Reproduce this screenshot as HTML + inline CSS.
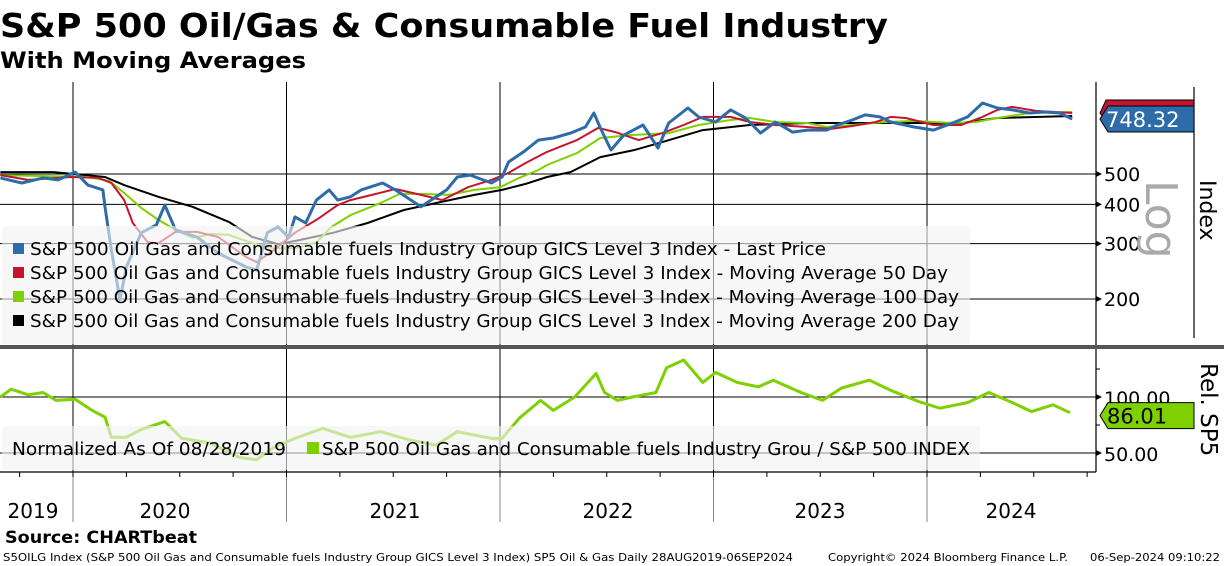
<!DOCTYPE html>
<html><head><meta charset="utf-8"><title>S&amp;P 500 Oil/Gas &amp; Consumable Fuel Industry</title>
<style>
html,body{margin:0;padding:0;background:#fff;width:1224px;height:566px;overflow:hidden}
svg{display:block;font-family:"DejaVu Sans","Liberation Sans",sans-serif}
</style></head>
<body>
<svg id="chart" width="1224" height="566" viewBox="0 0 1224 566" xmlns="http://www.w3.org/2000/svg">
<text x="0" y="37" font-size="33" font-weight="bold" textLength="888" lengthAdjust="spacingAndGlyphs">S&amp;P 500 Oil/Gas &amp; Consumable Fuel Industry</text>
<text x="0" y="68" font-size="22" font-weight="bold" textLength="306" lengthAdjust="spacingAndGlyphs">With Moving Averages</text>
<g id="grid"></g>
<g id="series"></g>
<g id="over"></g>
<text x="5" y="543" font-size="17" font-weight="bold" textLength="192" lengthAdjust="spacingAndGlyphs">Source: CHARTbeat</text>
<text x="3" y="561" font-size="11" textLength="790" lengthAdjust="spacingAndGlyphs">S5OILG Index (S&amp;P 500 Oil Gas and Consumable fuels Industry Group GICS Level 3 Index) SP5 Oil &amp; Gas  Daily 28AUG2019-06SEP2024</text>
<text x="828" y="561" font-size="11" textLength="240" lengthAdjust="spacingAndGlyphs">Copyright© 2024 Bloomberg Finance L.P.</text>
<text x="1090" y="561" font-size="11" textLength="130" lengthAdjust="spacingAndGlyphs">06-Sep-2024 09:10:22</text>
</svg>
<script>
// ---- data ----
const priceDates=[2019.66,2019.76,2019.86,2019.93,2020.01,2020.07,2020.14,2020.15,2020.18,2020.22,2020.25,2020.32,2020.39,2020.43,2020.48,2020.58,2020.68,2020.81,2020.86,2020.91,2020.96,2021.01,2021.04,2021.09,2021.14,2021.20,2021.24,2021.30,2021.35,2021.45,2021.51,2021.63,2021.75,2021.80,2021.86,2021.96,2022.01,2022.04,2022.11,2022.18,2022.25,2022.33,2022.40,2022.44,2022.47,2022.52,2022.58,2022.67,2022.74,2022.79,2022.88,2022.93,2023.01,2023.08,2023.15,2023.22,2023.29,2023.37,2023.44,2023.53,2023.58,2023.65,2023.71,2023.78,2023.83,2023.94,2024.03,2024.12,2024.19,2024.26,2024.33,2024.40,2024.48,2024.55,2024.62,2024.68];
const priceValues=[486,468,486,479,507,461,445,393,286,199,253,325,344,398,332,315,280,253,247,325,339,315,365,349,413,445,413,423,445,468,445,393,445,489,496,468,489,546,588,641,651,675,706,782,701,596,665,716,605,727,811,760,732,800,754,675,732,680,690,690,716,743,771,760,732,706,690,727,760,841,811,800,782,788,782,748.32];
const ma50Dates=[2019.66,2019.79,2019.99,2020.12,2020.18,2020.24,2020.28,2020.35,2020.40,2020.48,2020.58,2020.68,2020.81,2020.86,2020.94,2021.04,2021.14,2021.24,2021.30,2021.40,2021.51,2021.63,2021.73,2021.85,2021.96,2022.04,2022.12,2022.22,2022.36,2022.46,2022.54,2022.65,2022.76,2022.86,2022.95,2023.08,2023.17,2023.29,2023.44,2023.55,2023.65,2023.76,2023.83,2023.90,2024.03,2024.16,2024.26,2024.33,2024.40,2024.51,2024.68];
const ma50Values=[496,479,489,486,468,413,349,303,301,327,327,315,272,262,286,325,357,398,413,429,448,429,413,454,479,504,542,588,641,701,680,641,675,716,760,760,732,716,706,696,711,732,760,754,716,716,760,800,818,794,782];
const ma100Dates=[2019.66,2019.82,2020.07,2020.17,2020.24,2020.32,2020.40,2020.48,2020.56,2020.65,2020.73,2020.84,2020.94,2021.04,2021.14,2021.21,2021.30,2021.44,2021.53,2021.63,2021.76,2021.88,2022.00,2022.09,2022.18,2022.22,2022.36,2022.47,2022.61,2022.79,2022.93,2023.08,2023.17,2023.29,2023.44,2023.53,2023.65,2023.80,2023.94,2024.12,2024.23,2024.33,2024.48,2024.68];
const ma100Values=[496,493,489,475,435,390,357,332,313,322,320,301,290,290,303,339,370,404,432,432,429,445,454,486,515,534,583,651,665,675,716,743,754,732,727,706,716,732,738,727,732,754,782,788];
const ma200Dates=[2019.66,2019.91,2020.15,2020.24,2020.40,2020.56,2020.73,2020.84,2020.96,2021.06,2021.22,2021.38,2021.55,2021.72,2021.88,2022.01,2022.12,2022.22,2022.33,2022.47,2022.63,2022.76,2022.95,2023.17,2023.44,2023.80,2024.16,2024.33,2024.68];
const ma200Values=[507,507,489,461,423,393,352,315,299,308,325,349,384,407,429,445,465,489,507,566,596,632,690,716,727,727,727,754,765];
const relDates=[2019.66,2019.71,2019.79,2019.86,2019.92,2020.01,2020.09,2020.15,2020.18,2020.25,2020.32,2020.43,2020.51,2020.64,2020.78,2020.86,2020.94,2021.04,2021.17,2021.30,2021.44,2021.57,2021.70,2021.80,2021.96,2022.01,2022.09,2022.19,2022.25,2022.35,2022.45,2022.49,2022.55,2022.62,2022.73,2022.78,2022.86,2022.95,2023.01,2023.11,2023.21,2023.28,2023.41,2023.51,2023.60,2023.73,2023.83,2023.96,2024.06,2024.19,2024.29,2024.40,2024.49,2024.59,2024.67];
const relValues=[100,107,102,104,97,98,88,82,64,64,71,78,63,59,46,44,55,63,72,64,69,62,57,69,63,63,81,97,88,100,121,104,97,100,104,126,133,113,122,113,109,115,104,97,108,115,106,96,90,95,104,95,87,93,86.01];
const priceTicks=[500,400,300,200];
const relTicks=[100,50];
const relMinorTicks=[125,75];
const years=[2020,2021,2022,2023,2024];
const yearLabels=["2019","2020","2021","2022","2023","2024"];
const legendLabels=["S&P 500 Oil Gas and Consumable fuels Industry Group GICS Level 3 Index - Last Price","S&P 500 Oil Gas and Consumable fuels Industry Group GICS Level 3 Index - Moving Average 50 Day","S&P 500 Oil Gas and Consumable fuels Industry Group GICS Level 3 Index - Moving Average 100 Day","S&P 500 Oil Gas and Consumable fuels Industry Group GICS Level 3 Index - Moving Average 200 Day"];

// ---- scales ----
const X0=73, PXY=213.5, PLOT_R=1096;
function xs(t){return X0+(t-2020)*PXY;}
function yPrice(v){return 174-314*Math.log10(v/500);}
function yRel(v){return 397-(v-100)*1.12;}
const NS="http://www.w3.org/2000/svg";
function mk(tag,attrs,parent){const e=document.createElementNS(NS,tag);for(const k in attrs)e.setAttribute(k,attrs[k]);parent.appendChild(e);return e;}
const grid=document.getElementById('grid'),ser=document.getElementById('series'),over=document.getElementById('over');

years.forEach(y=>{
  const l=mk('line',{x1:xs(y),x2:xs(y),y1:82,y2:472,stroke:'#000','stroke-width':1},grid);
  
  
  const l2=mk('line',{x1:xs(y),x2:xs(y),y1:472,y2:522,stroke:'#888','stroke-width':1},grid);
  
  
});
priceTicks.forEach(v=>{
  const y=yPrice(v);
  const l=mk('line',{x1:0,x2:PLOT_R,y1:y,y2:y,stroke:'#000','stroke-width':1},grid);
  
  
  const tr=mk('path',{d:`M${PLOT_R} ${y-3}L${PLOT_R+6} ${y}L${PLOT_R} ${y+3}Z`,fill:'#000'},grid);
  
  
  const t=mk('text',{x:PLOT_R+8,y:y+7,'font-size':19},grid);t.textContent=v;
  
  
});
relTicks.forEach(v=>{
  const y=yRel(v);
  const l=mk('line',{x1:0,x2:PLOT_R,y1:y,y2:y,stroke:'#000','stroke-width':1},grid);
  
  
  const tr=mk('path',{d:`M${PLOT_R} ${y-3}L${PLOT_R+6} ${y}L${PLOT_R} ${y+3}Z`,fill:'#000'},grid);
  
  
  const t=mk('text',{x:PLOT_R+8,y:y+8,'font-size':19},grid);t.textContent=v.toFixed(2);
  
  
});
relMinorTicks.forEach(v=>{
  const y=yRel(v);
  const l=mk('line',{x1:PLOT_R,x2:PLOT_R+4,y1:y,y2:y,stroke:'#000'},grid);
  
  
});
[[PLOT_R,82,PLOT_R,472],[0,472,PLOT_R,472],[1194,87,1194,338]].forEach((a,i)=>{
  const l=mk('line',{x1:a[0],y1:a[1],x2:a[2],y2:a[3],stroke:'#000','stroke-width':1.2},grid);
  
  
});
for(let q=2019.75;q<2024.8;q+=0.25){
  const x=xs(q);
  if(x<0||x>PLOT_R) continue;
  const l=mk('line',{x1:x,x2:x,y1:472,y2:477,stroke:'#000'},grid);
  
  
}
const yearX=[33,165,395,608,820,1011];
yearLabels.forEach((s,i)=>{
  const t=mk('text',{x:yearX[i],y:518,'font-size':20,'text-anchor':'middle'},grid);t.textContent=s;
  
  
});
const sep=mk('rect',{x:0,y:345,width:1224,height:4,fill:'#555'},grid);



function line(d,v,yf,color,w,name){
  const p=d.map((t,i)=>(i?'L':'M')+xs(t).toFixed(1)+' '+yf(v[i]).toFixed(1)).join('');
  const e=mk('path',{d:p,fill:'none',stroke:color,'stroke-width':w,'stroke-linejoin':'round'},ser);
  
  
}
line(ma200Dates,ma200Values,yPrice,'#000',2,'ma200-line');
line(ma100Dates,ma100Values,yPrice,'#7ed000',2,'ma100-line');
line(ma50Dates,ma50Values,yPrice,'#c3162e',2,'ma50-line');
line(priceDates,priceValues,yPrice,'#2d6ca8',3,'last-price-line');
line(relDates,relValues,yRel,'#7ed000',3,'relative-sp5-line');

const lg=mk('rect',{x:2,y:226,width:968,height:118,rx:3,fill:'rgba(242,242,242,0.62)'},over);


const lcols=['#2d6ca8','#c3162e','#7ed000','#000'];
const lw=[796,918,929,929];
legendLabels.forEach((s,i)=>{
  const y=250+i*24;
  const r=mk('rect',{x:13,y:y-7,width:11,height:11,fill:lcols[i]},over);
  
  
  const t=mk('text',{x:30,y:y+5,'font-size':18,textLength:lw[i],lengthAdjust:'spacingAndGlyphs'},over);t.textContent=s;
  
  
});
const lg2=mk('rect',{x:2,y:426,width:978,height:44,rx:3,fill:'rgba(242,242,242,0.62)'},over);


const t2=mk('text',{x:12,y:455,'font-size':18,textLength:274,lengthAdjust:'spacingAndGlyphs'},over);t2.textContent='Normalized As Of 08/28/2019';


const r2=mk('rect',{x:307,y:442,width:12,height:12,fill:'#7ed000'},over);


const t3=mk('text',{x:322,y:455,'font-size':18,textLength:648,lengthAdjust:'spacingAndGlyphs'},over);t3.textContent='S&P 500 Oil Gas and Consumable fuels Industry Grou / S&P 500 INDEX';



const lastPrice=priceValues[priceValues.length-1];
const lastRel=relValues[relValues.length-1];
const lastMa=ma50Values[ma50Values.length-1];
const ym=yPrice(lastMa);
const rm=mk('path',{d:`M1106 ${ym-13}L1194 ${ym-13}L1194 ${ym+8}L1106 ${ym+8}L1100 ${ym}Z`,fill:'#c3162e',stroke:'#000','stroke-width':1},over);


const yb=yPrice(lastPrice);
const bp=mk('path',{d:`M1108 ${yb-13}L1194 ${yb-13}L1194 ${yb+13}L1108 ${yb+13}L1100 ${yb}Z`,fill:'#2d6ca8',stroke:'#000','stroke-width':1},over);


const tp=mk('text',{x:1106,y:yb+8,'font-size':21,fill:'#fff'},over);tp.textContent=lastPrice.toFixed(2);


const yr=yRel(lastRel)+3;
const br=mk('path',{d:`M1108 ${yr-13}L1194 ${yr-13}L1194 ${yr+13}L1108 ${yr+13}L1100 ${yr}Z`,fill:'#7ed000',stroke:'#000','stroke-width':1},over);


const tr2=mk('text',{x:1107,y:yr+8,'font-size':21,fill:'#000'},over);tr2.textContent=lastRel.toFixed(2);



const logT=mk('text',{x:0,y:0,'font-size':44,fill:'#aaa',transform:'translate(1146,180) rotate(90)'},over);logT.textContent='Log';


const idx=mk('text',{x:0,y:0,'font-size':22,fill:'#000',transform:'translate(1200,180) rotate(90)'},over);idx.textContent='Index';


const rel=mk('text',{x:0,y:0,'font-size':23,fill:'#000',transform:'translate(1201,363) rotate(90)'},over);rel.textContent='Rel. SP5';


</script>
</body></html>
